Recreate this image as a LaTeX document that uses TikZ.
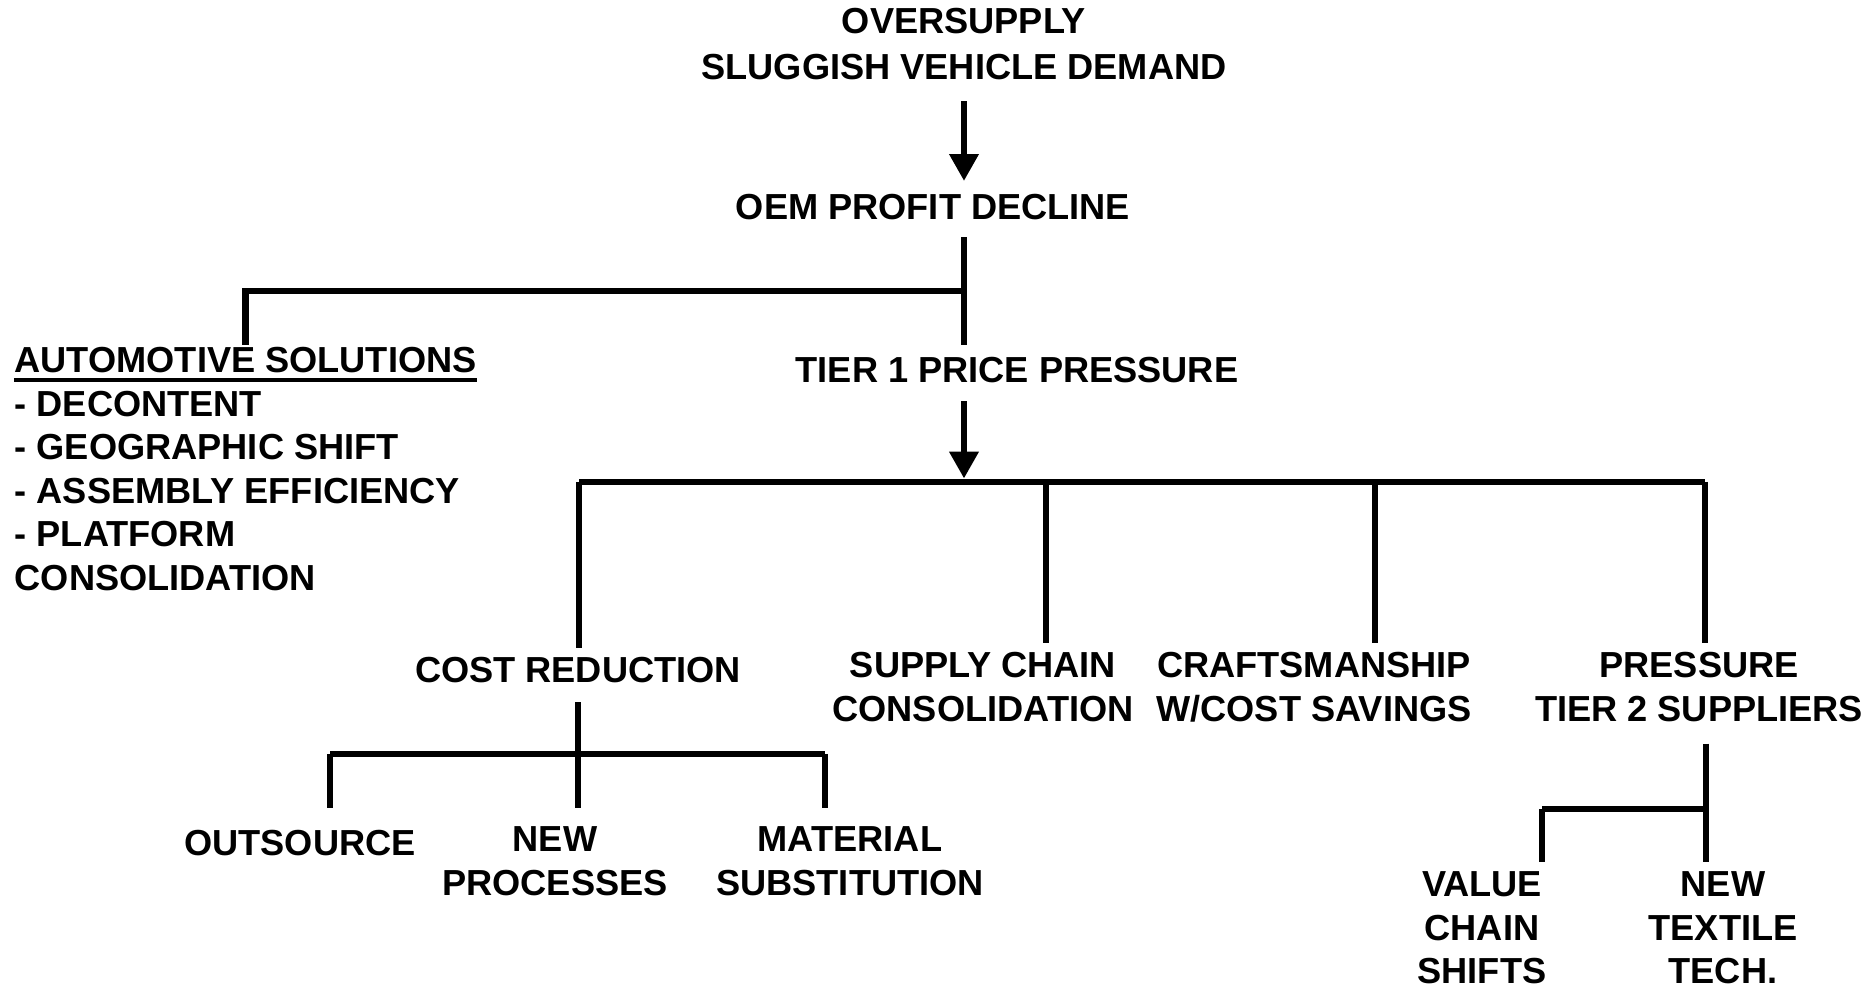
\documentclass[tikz,border=0pt]{standalone}
\usepackage{fontspec}
\setmainfont{Liberation Sans}
\usetikzlibrary{arrows.meta}

\begin{document}
\begin{tikzpicture}[x=1mm,y=-1mm]
\tikzstyle{txt}=[inner sep=0pt,align=center,anchor=base,font=\bfseries\fontsize{10.3}{12.4}\selectfont]
\tikzstyle{every node}=[txt]
\tikzstyle{bar}=[line width=0.68mm]
\tikzstyle{flow}=[bar,-{Triangle[length=2.7mm,width=2.8mm]}]
\useasboundingbox (0,0) rectangle (187,98.8);

% multi-line nodes sit on their last line
\node (top) at (96.4,8.0) {OVERSUPPLY\\[0.7pt]SLUGGISH VEHICLE DEMAND};
\node (oem) at (93.3,22.0) {OEM PROFIT DECLINE};
\node (tier1) at (101.7,38.3) {TIER 1 PRICE PRESSURE};
\node[anchor=base west] (autohead) at (1.4,37.3) {AUTOMOTIVE SOLUTIONS};
\node[anchor=base west,align=left] (autolist) at (1.4,59.05) {- DECONTENT\\- GEOGRAPHIC SHIFT\\- ASSEMBLY EFFICIENCY\\- PLATFORM\\CONSOLIDATION};

\node (cost) at (57.8,68.3) {COST REDUCTION};
\node (supply) at (98.3,72.15) {SUPPLY CHAIN\\CONSOLIDATION};
\node (craft) at (131.4,72.15) {CRAFTSMANSHIP\\W/COST SAVINGS};
\node (press) at (169.9,72.15) {PRESSURE\\TIER 2 SUPPLIERS};

\node (outs) at (30.0,85.6) {OUTSOURCE};
\node (newproc) at (55.5,89.55) {NEW\\PROCESSES};
\node (mat) at (85.0,89.55) {MATERIAL\\SUBSTITUTION};
\node (value) at (148.2,98.4) {VALUE\\CHAIN\\SHIFTS};
\node (textile) at (172.3,98.4) {NEW\\TEXTILE\\TECH.};

% junctions
\coordinate (j1) at (96.4,29.1);
\coordinate (j2) at (96.4,48.2);
\coordinate (b1) at (57.9,48.2);
\coordinate (b2) at (104.6,48.2);
\coordinate (b3) at (137.5,48.2);
\coordinate (b4) at (170.5,48.2);
\coordinate (c1) at (33.0,75.4);
\coordinate (c3) at (82.5,75.4);
\coordinate (t0) at (170.6,80.9);
\coordinate (t1) at (154.2,80.9);

\draw[flow] ([yshift=-2.0mm]top.south) -- ([yshift=1.3mm]top.south |- oem.north);
\draw[bar] ([yshift=-1.6mm]j1 |- oem.south) -- ([yshift=1.2mm]j1 |- tier1.north);
\draw[bar] (j1) -| ([yshift=0.2mm]autohead.north);
\draw[line width=0.35mm] ([yshift=-0.6mm]autohead.south west) -- ([yshift=-0.6mm]autohead.south east);
\draw[flow] ([yshift=-1.7mm]j2 |- tier1.south) -- ([yshift=0.34mm]j2);

\draw[bar] (b1) -- (b4);
\foreach \n/\m in {b1/cost,b2/supply,b3/craft,b4/press}
  \draw[bar] (\n) -- ([yshift=0.9mm]\n |- \m.north);

\draw[bar] ([yshift=-1.8mm]cost.south) -- ([yshift=1.8mm]cost.south |- newproc.north);
\draw[bar] (c1) -- (c3);
\draw[bar] (c1) -- ([yshift=1.8mm]c1 |- newproc.north);
\draw[bar] (c3) -- ([yshift=1.8mm]c3 |- mat.north);

\draw[bar] ([yshift=-2.1mm]t0 |- press.south) -- ([yshift=0.9mm]t0 |- textile.north);
\draw[bar] (t1) -- (t0);
\draw[bar] (t1) -- ([yshift=0.9mm]t1 |- value.north);
\end{tikzpicture}
\end{document}
